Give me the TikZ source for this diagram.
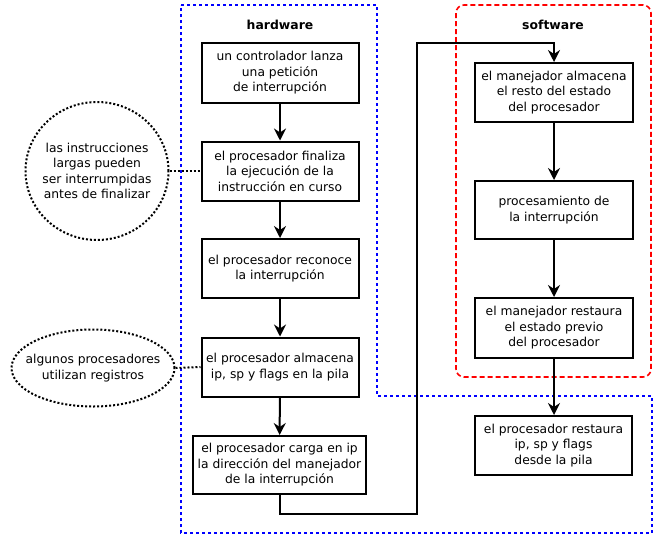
\documentclass[tikz,border=0pt]{standalone}
\usepackage{fontspec}
\setmainfont{DejaVu Sans}
\usetikzlibrary{arrows.meta,shapes.geometric}
\begin{document}
\begin{tikzpicture}[x=1pt,y=-1pt,
  every node/.style={font=\fontsize{12.3}{15.5}\selectfont},
  stepbox/.style={draw,line width=2pt,align=center,inner sep=0pt},
  flow/.style={line width=2pt,-{Stealth[length=12pt,width=12pt,inset=4pt]}},
  note/.style={draw,ellipse,dotted,line width=2pt,align=center,inner sep=-30pt},
  notelink/.style={dotted,line width=2pt},
  hwzone/.style={draw=blue,line width=2pt,dash pattern=on 3pt off 3pt},
  swzone/.style={draw=red,line width=1.6pt,dash pattern=on 5pt off 3pt,rounded corners=8pt},
  title/.style={font=\fontsize{12.4}{14}\selectfont\bfseries}]
\useasboundingbox (0,0) rectangle (663,539);

% regions
\draw[hwzone] (181,5) -- (377,5) -- (377,396) -- (652,396) -- (652,533) -- (181,533) -- cycle;
\draw[swzone] (456,5) rectangle (651,377);
\node[title] (hw) at (280,25) {hardware};
\node[title] (sw) at (553,25) {software};

% hardware steps
\node[stepbox,minimum width=157pt,minimum height=60pt] (h1) at (280,73)
  {un controlador lanza\\una petición\\de interrupción};
\node[stepbox,minimum width=157pt,minimum height=59pt] (h2) at (280,171)
  {el procesador finaliza\\la ejecución de la\\instrucción en curso};
\node[stepbox,minimum width=157pt,minimum height=59pt] (h3) at (280,268.5)
  {el procesador reconoce\\la interrupción};
\node[stepbox,minimum width=157pt,minimum height=59pt] (h4) at (280,367)
  {el procesador almacena\\ip, sp y flags en la pila};
\node[stepbox,minimum width=173pt,minimum height=58pt] (h5) at (279.5,465)
  {el procesador carga en ip\\la dirección del manejador\\de la interrupción};

% software steps
\node[stepbox,minimum width=158pt,minimum height=59pt] (s1) at (554,92.5)
  {el manejador almacena\\el resto del estado\\del procesador};
\node[stepbox,minimum width=158pt,minimum height=58pt] (s2) at (554,210)
  {procesamiento de\\la interrupción};
\node[stepbox,minimum width=158pt,minimum height=60pt] (s3) at (554,328)
  {el manejador restaura\\el estado previo\\del procesador};
\node[stepbox,minimum width=157pt,minimum height=59pt] (s4) at (553.5,445.5)
  {el procesador restaura\\ip, sp y flags\\desde la pila};

% notes
\node[note,minimum width=143pt,minimum height=138pt] (n1) at (97,171)
  {las instrucciones\\largas pueden\\ser interrumpidas\\antes de finalizar};
\node[note,minimum width=163pt,minimum height=77pt] (n2) at (93,368)
  {algunos procesadores\\utilizan registros};

% connectors
\draw[flow] (h1) -- (h2);
\draw[flow] (h2) -- (h3);
\draw[flow] (h3) -- (h4);
\draw[flow] (h4) -- (h5);
\coordinate (c1) at (279.5,514);
\coordinate (c2) at (417,514);
\coordinate (c3) at (417,43);
\coordinate (c4) at (554,43);
\draw[flow] (h5.south) -- (c1) -- (c2) -- (c3) -- (c4) -- (s1.north);
\draw[flow] (s1) -- (s2);
\draw[flow] (s2) -- (s3);
\draw[flow] (s3.south) -- (s3.south |- s4.north);
\draw[notelink] (n1.east) -- (h2.west);
\draw[notelink] (n2.east) -- (h4.west);
\end{tikzpicture}
\end{document}
